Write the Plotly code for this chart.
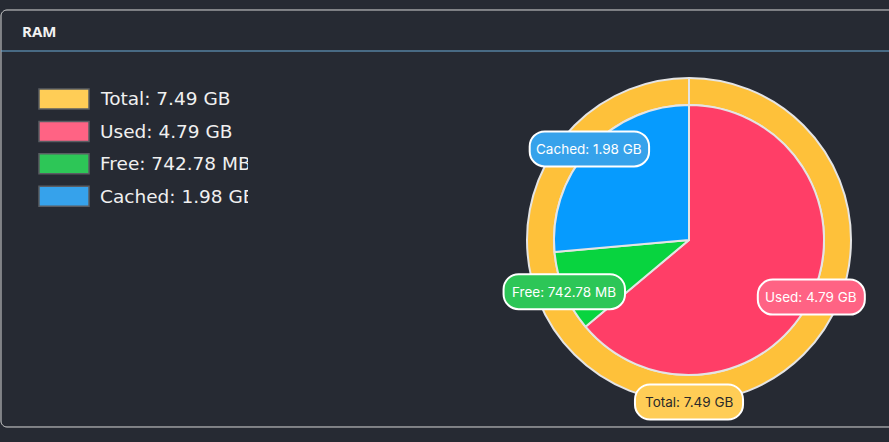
import math
import plotly.graph_objects as go

# ---------------- data ----------------
title_text = "RAM"
inner_labels = ["Used", "Free", "Cached"]
inner_values = [4.79, 742.78 / 1024, 1.98]          # GB
inner_display = ["4.79 GB", "742.78 MB", "1.98 GB"]
total_label = "Total"
total_value = 7.49
total_display = "7.49 GB"

legend_names = ["Total", "Used", "Free", "Cached"]
legend_display = ["7.49 GB", "4.79 GB", "742.78 MB", "1.98 GB"]

# ---------------- style ----------------
W, H = 889, 442
BG = "#262a33"
slice_colors = {"Total": "#fec13a", "Used": "#ff3e67", "Free": "#08d43f", "Cached": "#069bfe"}
soft_colors = {"Total": "#ffcd56", "Used": "#ff6384", "Free": "#2dc657", "Cached": "#36a2eb"}
border_col = "#e4e4e4"

cx, cy = 689, 240          # pie centre (px)
R_out, R_in = 162, 135     # radii (px)

CHAR_W = {" ": 3.5, ":": 3.5, ".": 3.5, "1": 5, "l": 3.5, "t": 5, "r": 5, "s": 6.5, "c": 6.5,
          "T": 8, "M": 11, "G": 9, "B": 8.5, "C": 8.5, "U": 9, "F": 7.5}


def text_w(s):
    return 1.03 * sum(CHAR_W.get(c, 7.5) for c in s)


def px(x):
    return x / W


def py(y):
    return 1 - y / H


def rounded_path(x0, y0, x1, y1, r):
    k = 0.5523 * r
    segs = [
        ("M", [(x0 + r, y0)]), ("L", [(x1 - r, y0)]),
        ("C", [(x1 - r + k, y0), (x1, y0 + r - k), (x1, y0 + r)]),
        ("L", [(x1, y1 - r)]),
        ("C", [(x1, y1 - r + k), (x1 - r + k, y1), (x1 - r, y1)]),
        ("L", [(x0 + r, y1)]),
        ("C", [(x0 + r - k, y1), (x0, y1 - r + k), (x0, y1 - r)]),
        ("L", [(x0, y0 + r)]),
        ("C", [(x0, y0 + r - k), (x0 + r - k, y0), (x0 + r, y0)]),
    ]
    s = ""
    for cmd, ps in segs:
        s += cmd + " " + " ".join(f"{px(a):.5f},{py(b):.5f}" for a, b in ps) + " "
    return s + "Z"


fig = go.Figure()

# outer ring (total)
fig.add_trace(go.Pie(
    labels=[total_label], values=[total_value], hole=R_in / R_out, sort=False,
    direction="clockwise", textinfo="none", hoverinfo="skip", showlegend=False,
    marker=dict(colors=[slice_colors[total_label]], line=dict(color=border_col, width=2)),
    domain=dict(x=[px(cx - R_out), px(cx + R_out)], y=[py(cy + R_out), py(cy - R_out)]),
))
# inner pie
fig.add_trace(go.Pie(
    labels=inner_labels, values=inner_values, sort=False, direction="clockwise",
    textinfo="none", hoverinfo="skip", showlegend=False,
    marker=dict(colors=[slice_colors[l] for l in inner_labels], line=dict(color=border_col, width=2)),
    domain=dict(x=[px(cx - R_in), px(cx + R_in)], y=[py(cy + R_in), py(cy - R_in)]),
))

shapes = []
annotations = []

# panel frame
shapes.append(dict(type="path", xref="paper", yref="paper", layer="below",
                   path=rounded_path(1, 10, W + 20, 427, 6),
                   line=dict(color="#d8d8d8", width=1), fillcolor=BG))
shapes.append(dict(type="line", xref="paper", yref="paper", layer="below",
                   x0=px(1), x1=1, y0=py(51), y1=py(51),
                   line=dict(color="#6aaad6", width=1)))
annotations.append(dict(text="<b>" + title_text + "</b>", x=px(20), y=py(31), xref="paper", yref="paper",
                        xanchor="left", yanchor="middle", showarrow=False,
                        font=dict(family="Open Sans", size=15, color="#f2f2f2")))

# seam of the outer ring at 12 o'clock
shapes.append(dict(type="line", xref="paper", yref="paper",
                   x0=px(cx), x1=px(cx), y0=py(cy - R_in), y1=py(cy - R_out),
                   line=dict(color=border_col, width=2)))

# legend
for i, (name, disp) in enumerate(zip(legend_names, legend_display)):
    yc = 99 + i * 32.4
    shapes.append(dict(type="rect", xref="paper", yref="paper",
                       x0=px(39), x1=px(89), y0=py(yc - 10), y1=py(yc + 10),
                       fillcolor=soft_colors[name], line=dict(color="#5a5d63", width=1.5)))
    annotations.append(dict(text=f"{name}: {disp}", x=px(99), y=py(yc), xref="paper", yref="paper",
                            xanchor="left", yanchor="middle", align="left", width=148,
                            showarrow=False, borderpad=0,
                            font=dict(family="DejaVu Sans", size=18.5, color="#f0f0f0")))


# data labels with rounded boxes at the outer edge of each arc
def add_label(text, frac_mid, radius, fill, txtcol):
    ang = 2 * math.pi * frac_mid
    lx = cx + radius * math.sin(ang)
    ly = cy - radius * math.cos(ang)
    bw, bh = text_w(text) + 20, 35
    shapes.append(dict(type="path", xref="paper", yref="paper",
                       path=rounded_path(lx - bw / 2, ly - bh / 2, lx + bw / 2, ly + bh / 2, 15),
                       fillcolor=fill, line=dict(color="#ffffff", width=2)))
    annotations.append(dict(text=text, x=px(lx), y=py(ly), xref="paper", yref="paper",
                            xanchor="center", yanchor="middle", showarrow=False,
                            font=dict(family="Inter", size=13.5, color=txtcol)))


tot = sum(inner_values)
cum = 0
for lab, v, disp in zip(inner_labels, inner_values, inner_display):
    mid = (cum + v / 2) / tot
    cum += v
    add_label(f"{lab}: {disp}", mid, R_in, soft_colors[lab], "#ffffff")
add_label(f"{total_label}: {total_display}", 0.5, R_out, soft_colors[total_label], "#2a2a2a")

fig.update_layout(
    width=W, height=H, margin=dict(l=0, r=0, t=0, b=0),
    paper_bgcolor=BG, plot_bgcolor=BG,
    shapes=shapes, annotations=annotations, showlegend=False,
)

fig.write_html("out.html", config={"displayModeBar": False})
